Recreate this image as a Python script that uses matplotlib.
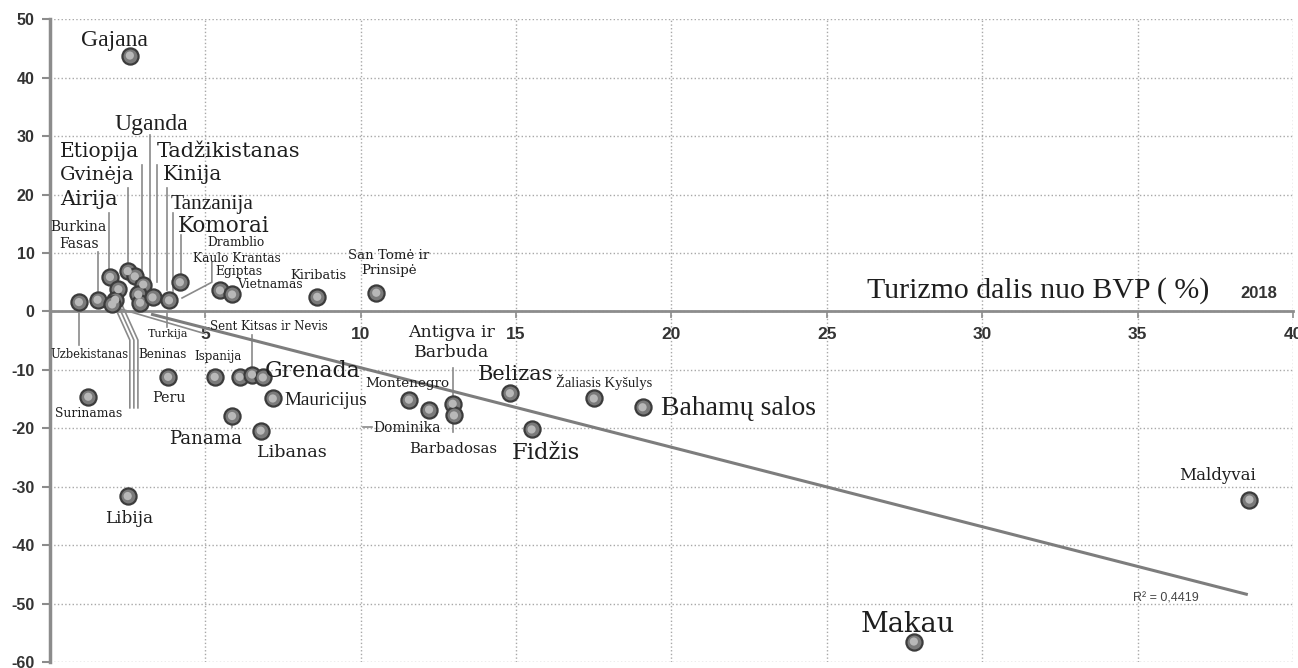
import numpy as np
import matplotlib.pyplot as plt

plt.rc("font", family = "DejaVu Serif")
plt.rc("axes", unicode_minus = False)

# Turizmo dalis nuo BVP (%) ir pokytis (y)
share = [2.57, 0.93, 1.53, 1.93, 2.2, 2.1, 2.0, 2.5, 2.73, 3.0, 2.84, 2.9, 3.3, 3.83, 4.18,
         5.47, 5.86, 8.6, 10.5, 1.23, 3.8, 5.3, 6.1, 6.5, 6.85, 5.86, 6.78, 7.17, 2.5,
         11.55, 12.2, 12.96, 13.0, 14.8, 15.5, 17.5, 19.07, 38.6, 27.8]
change = [43.8, 1.6, 2.0, 5.9, 3.8, 2.0, 1.2, 6.9, 6.0, 4.6, 2.9, 1.5, 2.4, 1.9, 5.0,
          3.6, 2.9, 2.5, 3.2, -14.6, -11.2, -11.2, -11.2, -10.8, -11.3, -17.9, -20.4, -14.9, -31.6,
          -15.1, -16.8, -15.8, -17.8, -14.0, -20.2, -14.9, -16.4, -32.2, -56.5]

trend_intercept = 3.96
trend_slope = -1.36
trend_range = [3.3, 38.5]
r_squared = "0,4419"

x_ticks = np.arange(5, 41, 5)
y_ticks = np.arange(-60, 51, 10)

# text, x, y (baseline of last line), size, ha, narrow
labels = [
    ("Gajana", 2.07, 45.4, 17, "center", True),
    ("Uganda", 3.27, 31.1, 17, "center", True),
    ("Etiopija", 0.32, 26.4, 14.5, "left", False),
    ("Tadžikistanas", 3.43, 26.4, 15, "left", False),
    ("Gvinėja", 0.32, 22.5, 14, "left", False),
    ("Kinija", 3.64, 22.5, 14.5, "left", False),
    ("Airija", 0.32, 18.2, 15, "left", False),
    ("Tanzanija", 3.88, 17.5, 15.5, "left", True),
    ("Komorai", 4.12, 13.6, 15.5, "left", False),
    ("Burkina\nFasas", 0.93, 10.9, 10, "center", False),
    ("Dramblio\nKaulo Krantas", 6.0, 8.5, 8.7, "center", False),
    ("Egiptas", 5.31, 6.2, 8.8, "left", False),
    ("Vietnamas", 6.03, 4.0, 8.8, "left", False),
    ("Kiribatis", 7.72, 5.6, 9.4, "left", False),
    ("San Tomė ir\nPrinsipė", 10.9, 6.4, 9.6, "center", False),
    ("Sent Kitsas ir Nevis", 5.15, -3.2, 8.5, "left", False),
    ("Turkija", 3.8, -4.4, 8, "center", False),
    ("Uzbekistanas", 0.0, -8.0, 8.3, "left", False),
    ("Beninas", 2.83, -8.0, 8.6, "left", False),
    ("Ispanija", 4.64, -8.3, 8.5, "left", False),
    ("Surinamas", 1.23, -18.1, 8.9, "center", False),
    ("Peru", 3.83, -15.5, 10.3, "center", False),
    ("Panama", 5.0, -22.7, 13.1, "center", False),
    ("Libanas", 7.78, -24.9, 12.6, "center", False),
    ("Grenada", 6.92, -11.2, 15.8, "left", False),
    ("Mauricijus", 7.56, -16.0, 13.8, "left", True),
    ("Montenegro", 10.14, -12.9, 9.7, "left", False),
    ("Dominika", 10.4, -20.6, 10, "left", False),
    ("Barbadosas", 11.55, -24.2, 10.7, "left", False),
    ("Antigva ir\nBarbuda", 12.93, -7.8, 12.5, "center", False),
    ("Belizas", 13.78, -11.7, 15, "left", False),
    ("Fidžis", 14.87, -25.2, 16.3, "left", False),
    ("Žaliasis Kyšulys", 16.3, -12.9, 10.5, "left", True),
    ("Bahamų salos", 19.66, -17.7, 20, "left", True),
    ("Maldyvai", 37.58, -28.8, 12, "center", False),
    ("Makau", 27.6, -54.9, 19.5, "center", False),
    ("Libija", 2.56, -36.2, 12.2, "center", False),
]

leaders = [
    [(3.22, 30.2), (3.22, 5.4)],
    [(2.96, 25.1), (2.96, 6.2)],
    [(3.44, 25.1), (3.44, 5.0)],
    [(2.51, 21.1), (2.51, 7.4)],
    [(3.77, 21.1), (3.77, 3.7)],
    [(1.9, 16.8), (1.9, 6.8)],
    [(3.96, 16.8), (3.96, 2.8)],
    [(4.22, 13.1), (4.22, 6.2)],
    [(1.54, 10.2), (1.54, 2.8)],
    [(5.21, 8.4), (5.21, 5.0), (4.25, 2.3)],
    [(0.93, 0.2), (0.93, -5.8)],
    [(3.77, -0.3), (3.77, -2.7)],
    [(6.5, -4.0), (6.5, -10.4)],
    [(5.86, -18.1), (5.86, -19.8)],
    [(12.97, -9.6), (12.97, -20.6)],
    [(2.06, 1.1), (2.57, -4.9), (2.57, -16.5)],
    [(2.19, 1.1), (2.70, -4.9), (2.70, -16.5)],
    [(2.32, 1.1), (2.83, -4.9), (2.83, -16.5)],
    [(2.16, 0.6), (4.92, -3.7)],
    [(10.07, -19.7), (10.36, -19.7)],
]

fig = plt.figure(figsize = (12.98, 6.68), dpi = 100)
ax = fig.add_axes([0.0385, 0.009, 0.9576, 0.9621])

ax.set_xlim(0, 40)
ax.set_ylim(-60, 50)
ax.set_xticks(x_ticks)
ax.set_yticks(y_ticks)
ax.grid(True, linestyle = ":", color = "#a8a8a8", linewidth = 1.0, zorder = 0)
ax.set_axisbelow(True)

ax.spines["top"].set_visible(False)
ax.spines["right"].set_visible(False)
ax.spines["bottom"].set_position(("data", 0))
ax.spines["bottom"].set_color("#8c8c8c")
ax.spines["bottom"].set_linewidth(2.0)
ax.spines["left"].set_color("#8c8c8c")
ax.spines["left"].set_linewidth(2.5)
ax.tick_params(axis = "y", length = 6, width = 1.5, color = "#8c8c8c", pad = 5, labelsize = 11.5, labelcolor = "#333333")
ax.tick_params(axis = "x", length = 5, width = 1.2, color = "#8c8c8c", pad = 6, labelsize = 12.5, labelcolor = "#333333")
for lab in ax.get_xticklabels() + ax.get_yticklabels():
    lab.set_fontfamily("Liberation Sans")
    lab.set_fontweight("bold")

for seg in leaders:
    xs, ys = zip(*seg)
    ax.plot(xs, ys, color = "#8a8a8a", linewidth = 1.2, zorder = 2)

tx = np.array(trend_range)
ax.plot(tx, trend_intercept + trend_slope * tx, color = "#7d7d7d", linewidth = 2.2, zorder = 2)

ax.scatter(share, change, s = 135, facecolor = "#7a7a7a", edgecolor = "#3c3c3c", linewidth = 1.6, zorder = 3)
ax.scatter(share, change, s = 35, facecolor = "#b8b8b8", edgecolor = "none", zorder = 4)

for text, lx, ly, size, ha, narrow in labels:
    # the narrow labels are set in a condensed face in the source; Times is the narrowest serif here
    family = "Liberation Serif" if narrow else "DejaVu Serif"
    ax.text(lx, ly, text, fontsize = size, ha = ha, va = "baseline", color = "#1e1e1e",
            fontfamily = family, linespacing = 1.25, zorder = 5)

ax.text(26.3, 2.3, "Turizmo dalis nuo BVP ( %)", fontsize = 21.5, fontfamily = "Liberation Serif", color = "#1e1e1e")
ax.text(38.3, 2.3, "2018", fontsize = 12, fontfamily = "Liberation Sans", fontweight = "bold", color = "#333333")
ax.text(34.86, -49.7, "R² = " + r_squared, fontsize = 9, fontfamily = "Liberation Sans", color = "#444444")

fig.savefig("out.png")
